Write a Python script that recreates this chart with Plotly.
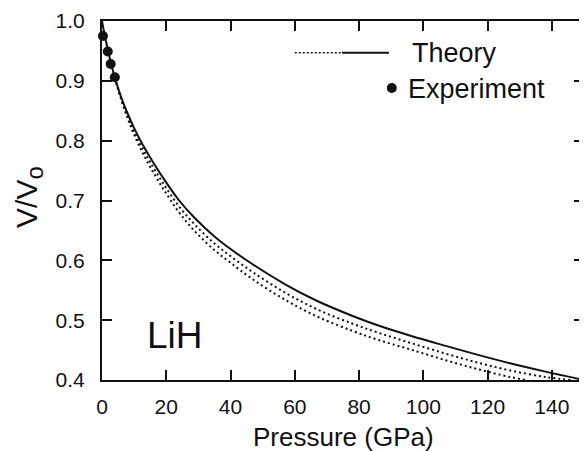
import plotly.graph_objects as go

# Theory (solid)
p_solid = [0, 1, 2, 3, 4, 6, 8, 10, 12.5, 15, 19, 24, 29, 35, 40, 47, 57, 67, 78, 86, 96, 107, 117, 127, 138, 150]
v_solid = [1.000, 0.972, 0.948, 0.925, 0.905, 0.872, 0.845, 0.821, 0.795, 0.772, 0.738, 0.700, 0.670, 0.640,
           0.619, 0.593, 0.560, 0.532, 0.507, 0.491, 0.474, 0.457, 0.442, 0.428, 0.414, 0.400]

# Theory (dotted, upper)
p_dot1 = [4, 6, 8, 10, 12.5, 15, 19, 24, 29, 35, 40, 47, 57, 67, 78, 86, 96, 107, 117, 127, 138, 146]
v_dot1 = [0.905, 0.870, 0.841, 0.815, 0.788, 0.764, 0.729, 0.690, 0.659, 0.628, 0.607, 0.580, 0.546, 0.518,
          0.494, 0.479, 0.462, 0.444, 0.429, 0.416, 0.405, 0.400]

# Theory (dotted, lower)
p_dot2 = [4, 6, 8, 10, 12.5, 15, 19, 24, 29, 35, 40, 47, 57, 67, 78, 86, 96, 107, 117, 127, 132]
v_dot2 = [0.905, 0.868, 0.837, 0.810, 0.781, 0.756, 0.720, 0.680, 0.648, 0.617, 0.596, 0.568, 0.534, 0.506,
          0.482, 0.467, 0.451, 0.433, 0.418, 0.405, 0.400]

# Experiment
p_exp = [0.3, 1.8, 2.7, 4.0]
v_exp = [0.975, 0.949, 0.928, 0.906]

x_ticks = [0, 20, 40, 60, 80, 100, 120, 140]
y_ticks = [0.4, 0.5, 0.6, 0.7, 0.8, 0.9, 1.0]

# legend sample positions (data coords)
leg_dot_x = [60, 74.7]
leg_solid_x = [74.7, 89.3]
leg_line_y = 0.947
leg_marker_x = [90.2]
leg_marker_y = [0.888]

FONT = "Liberation Sans"
BLACK = "#111111"

fig = go.Figure()
fig.add_trace(go.Scatter(x=p_dot2, y=v_dot2, mode="lines", line=dict(color=BLACK, width=2, dash="2px,3px", shape="spline"),
                         showlegend=False))
fig.add_trace(go.Scatter(x=p_dot1, y=v_dot1, mode="lines", line=dict(color=BLACK, width=2, dash="2px,3px", shape="spline"),
                         showlegend=False))
fig.add_trace(go.Scatter(x=p_solid, y=v_solid, mode="lines", line=dict(color=BLACK, width=2, shape="spline"),
                         showlegend=False))
fig.add_trace(go.Scatter(x=p_exp, y=v_exp, mode="markers", marker=dict(color=BLACK, size=10),
                         showlegend=False, cliponaxis=False))

# manual legend
fig.add_trace(go.Scatter(x=leg_dot_x, y=[leg_line_y] * 2, mode="lines",
                         line=dict(color=BLACK, width=1.5, dash="2px,2px"), showlegend=False))
fig.add_trace(go.Scatter(x=leg_solid_x, y=[leg_line_y] * 2, mode="lines",
                         line=dict(color=BLACK, width=2), showlegend=False))
fig.add_trace(go.Scatter(x=leg_marker_x, y=leg_marker_y, mode="markers",
                         marker=dict(color=BLACK, size=10), showlegend=False))
fig.add_annotation(x=96, y=0.946, text="Theory", showarrow=False, xanchor="left", yanchor="middle",
                   font=dict(family=FONT, size=27, color=BLACK))
fig.add_annotation(x=94.6, y=0.886, text="Experiment", showarrow=False, xanchor="left", yanchor="middle",
                   font=dict(family=FONT, size=27, color=BLACK))
fig.add_annotation(x=13.4, y=0.475, text="LiH", showarrow=False, xanchor="left", yanchor="middle",
                   font=dict(family=FONT, size=37, color=BLACK))

# axis titles
fig.add_annotation(xref="paper", yref="paper", x=0.5, y=0, yshift=-57, text="Pressure (GPa)",
                   showarrow=False, xanchor="center", yanchor="middle",
                   font=dict(family=FONT, size=26, color=BLACK))
fig.add_annotation(xref="paper", yref="paper", x=0, y=0.51, xshift=-73,
                   text="V/V<sub><span style='font-size:24px'>o</span></sub>",
                   showarrow=False, xanchor="center", yanchor="middle", textangle=-90,
                   font=dict(family=FONT, size=30, color=BLACK))

axis_common = dict(showgrid=False, zeroline=False, showline=True, linecolor=BLACK, linewidth=2,
                   mirror="ticks", ticks="inside", ticklen=10, tickwidth=1.5, tickcolor=BLACK,
                   tickfont=dict(family=FONT, size=21, color=BLACK))

fig.update_xaxes(range=[0, 150], tickvals=x_ticks, ticklabelstandoff=7, **axis_common)
fig.update_yaxes(range=[0.4, 1.0], tickvals=y_ticks, tickformat=".1f", ticklabelstandoff=11, **axis_common)

fig.update_layout(width=579, height=443, margin=dict(l=94, r=1, t=12, b=71),
                  plot_bgcolor="white", paper_bgcolor="white", showlegend=False)

fig.write_html("out.html")
